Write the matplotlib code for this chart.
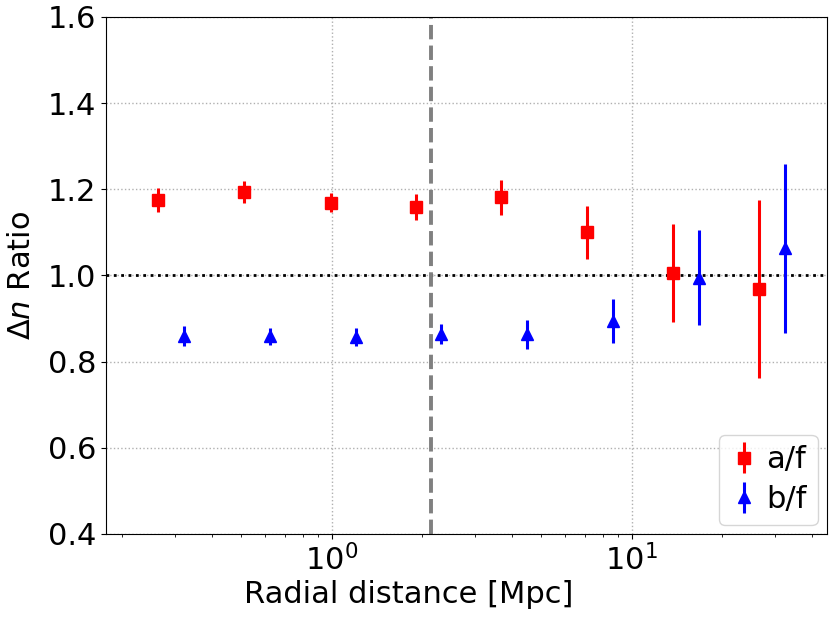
import matplotlib
matplotlib.use("Agg")
import matplotlib.pyplot as plt

# data
x_a = [0.264, 0.51, 0.995, 1.905, 3.68, 7.12, 13.77, 26.6]
y_a = [1.175, 1.194, 1.169, 1.158, 1.181, 1.100, 1.006, 0.968]
e_a = [0.027, 0.026, 0.023, 0.030, 0.041, 0.062, 0.114, 0.206]

x_b = [0.322, 0.623, 1.20, 2.32, 4.49, 8.69, 16.76, 32.4]
y_b = [0.860, 0.859, 0.857, 0.864, 0.863, 0.893, 0.995, 1.063]
e_b = [0.023, 0.020, 0.020, 0.024, 0.033, 0.051, 0.110, 0.196]

r_vline = 2.14
ref_level = 1.0

fig = plt.figure(figsize=(8.3, 6.23), dpi=100)
ax = fig.add_axes([0.128, 0.143, 0.868, 0.830])

ax.errorbar(x_a, y_a, yerr=e_a, fmt='s', color='red', ms=9, elinewidth=2.2,
            capsize=0, label='a/f', zorder=3)
ax.errorbar(x_b, y_b, yerr=e_b, fmt='^', color='blue', ms=9, elinewidth=2.2,
            capsize=0, label='b/f', zorder=3)

ax.axhline(ref_level, color='black', ls=':', lw=2, zorder=2)
ax.axvline(r_vline, color='gray', ls='--', lw=2.8, zorder=2)

ax.set_xscale('log')
ax.set_xlim(0.177, 44.7)
ax.set_ylim(0.4, 1.6)
ax.set_yticks([0.4, 0.6, 0.8, 1.0, 1.2, 1.4, 1.6])
ax.grid(True, which='major', ls=':', color='#b0b0b0', lw=1)

ax.tick_params(labelsize=22)
ax.set_xlabel('Radial distance [Mpc]', fontsize=22, labelpad=3)
ax.xaxis.label.set_x(0.42)
ax.set_ylabel(r'$\Delta n$ Ratio', fontsize=22, labelpad=9)

leg = ax.legend(loc='lower right', fontsize=22, handletextpad=0.3,
                handlelength=0.9, borderpad=0.35, labelspacing=0.35,
                borderaxespad=0.3)

fig.savefig('out.png', dpi=100)
